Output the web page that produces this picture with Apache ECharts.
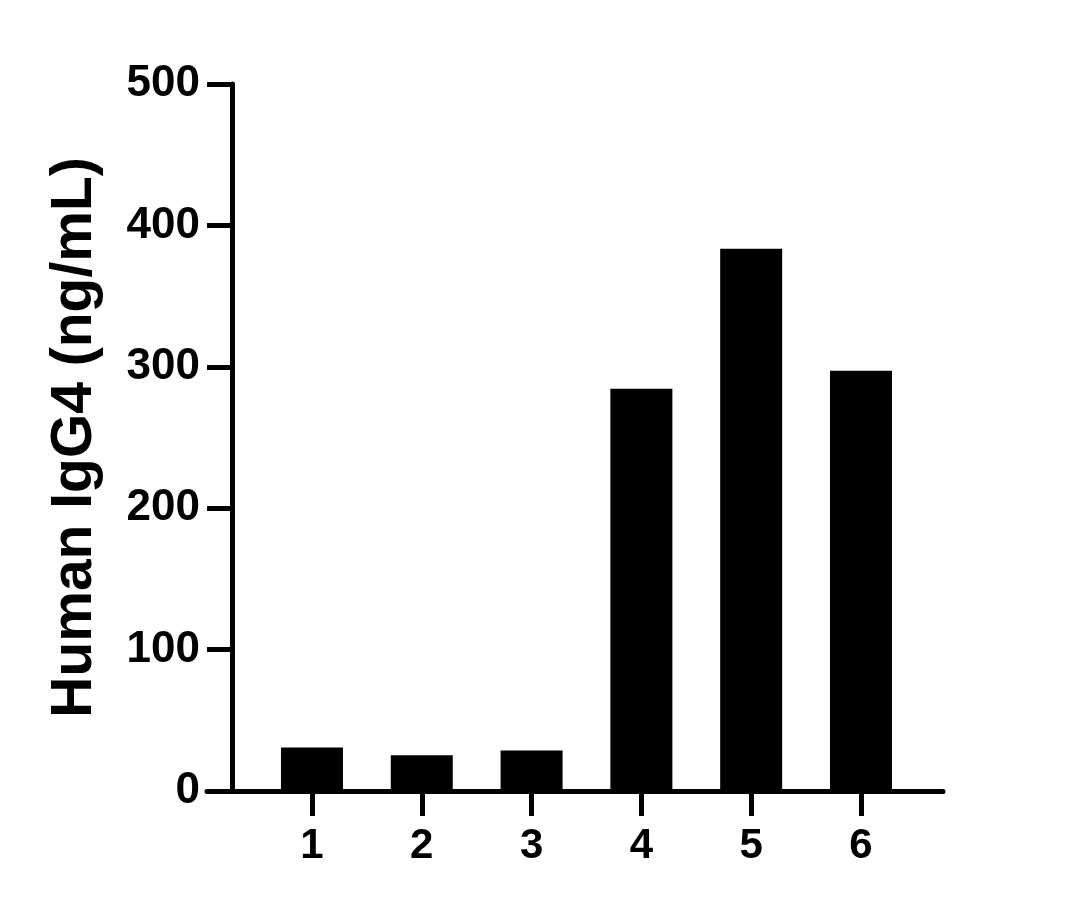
<!DOCTYPE html>
<html>
<head>
<meta charset="utf-8">
<script src="https://cdn.jsdelivr.net/npm/echarts@6/dist/echarts.min.js"></script>
<style>
html,body{margin:0;padding:0;background:#fff;}
#chart{width:1079px;height:908px;}
</style>
</head>
<body>
<div id="chart"></div>
<script>
const categories = [1, 2, 3, 4, 5, 6];
const values = [30.7, 25.3, 28.6, 284.5, 383.4, 297.2];
const yTicks = [0, 100, 200, 300, 400, 500];
const yTitle = 'Human IgG4 (ng/mL)';

const FONT = '"Liberation Sans", Arial, sans-serif';
const chart = echarts.init(document.getElementById('chart'));
chart.setOption({
  animation: false,
  backgroundColor: '#ffffff',
  grid: { left: 207, right: 136, top: 84, bottom: 117, containLabel: false },
  xAxis: {
    type: 'value',
    min: 0.044,
    max: 6.747,
    splitLine: { show: false },
    axisLine: { show: true, onZero: false, lineStyle: { color: '#000', width: 5 } },
    axisTick: { show: true, customValues: categories, length: 25, lineStyle: { color: '#000', width: 5 } },
    axisLabel: {
      customValues: categories, margin: 34,
      color: '#000', fontFamily: FONT, fontWeight: 'bold', fontSize: 42
    }
  },
  yAxis: {
    type: 'value',
    min: 0, max: 500, interval: 100,
    offset: -25,
    splitLine: { show: false },
    axisLine: { show: true, onZero: false, lineStyle: { color: '#000', width: 5 } },
    axisTick: { show: true, length: 25, lineStyle: { color: '#000', width: 5 } },
    axisLabel: {
      margin: 32, color: '#000', fontFamily: FONT, fontWeight: 'bold', fontSize: 44,
      formatter: function (v) { return yTicks.indexOf(v) >= 0 ? String(v) : ''; }
    },
    name: yTitle,
    nameLocation: 'middle',
    nameGap: 128,
    nameTextStyle: { color: '#000', fontFamily: FONT, fontWeight: 'bold', fontSize: 57 }
  },
  series: [{
    type: 'bar',
    barWidth: 62,
    itemStyle: { color: '#000' },
    data: categories.map(function (c, i) { return [c, values[i]]; })
  }]
});
</script>
</body>
</html>
